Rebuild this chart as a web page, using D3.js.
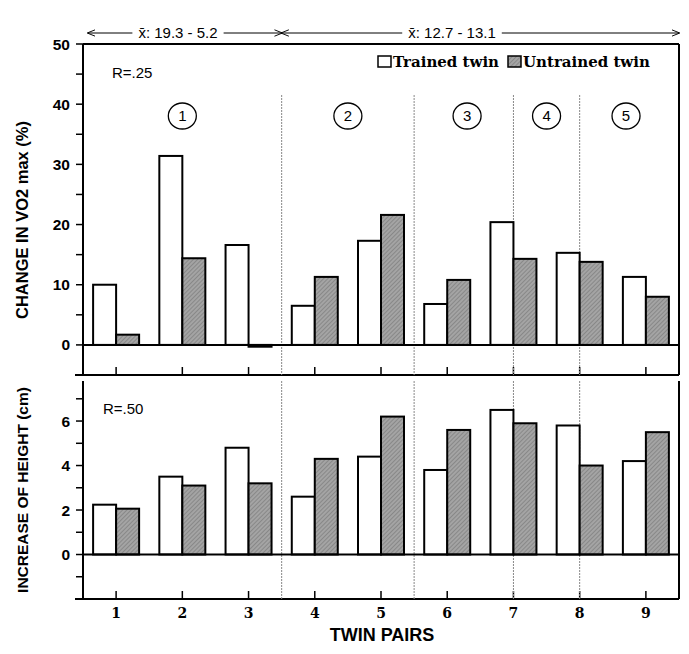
<!DOCTYPE html>
<html>
<head>
<meta charset="utf-8">
<script src="https://cdn.jsdelivr.net/npm/d3@7"></script>
<style>
  body { margin: 0; background: #fff; }
  svg { display: block; }
</style>
</head>
<body>
<svg id="chart" width="689" height="654"></svg>
<script>
// data
var pairs = ['1', '2', '3', '4', '5', '6', '7', '8', '9'];
var series = ['Trained twin', 'Untrained twin'];
var vo2Trained   = [10.0, 31.4, 16.6, 6.5, 17.3, 6.8, 20.4, 15.3, 11.3];
var vo2Untrained = [1.7, 14.4, -0.3, 11.3, 21.6, 10.8, 14.3, 13.8, 8.0];
var hgtTrained   = [2.24, 3.5, 4.8, 2.6, 4.4, 3.8, 6.5, 5.8, 4.2];
var hgtUntrained = [2.06, 3.1, 3.2, 4.3, 6.2, 5.6, 5.9, 4.0, 5.5];
var vo2Ticks = [0, 10, 20, 30, 40, 50];
var hgtTicks = [0, 2, 4, 6];
var dividers = [3.5, 5.5, 7, 8];          // in pair units
var groupLabels = [{t: '1', at: 2}, {t: '2', at: 4.5}, {t: '3', at: 6.3}, {t: '4', at: 7.5}, {t: '5', at: 8.7}];
var meanLabels = ['x\u0304: 19.3 - 5.2', 'x\u0304: 12.7 - 13.1'];

var svg = d3.select('#chart');
var left = 83, right = 679;
var sans = 'Liberation Sans, Arial, sans-serif';
var serif = 'DejaVu Serif, serif';

var x = d3.scaleBand().domain(pairs).range([left, right]).padding(0);
var xs = d3.scaleBand().domain(series).range([0, 46]);
var xPos = function (p) { return left + (p - 0.5) * x.bandwidth(); };

// hatch-ish pattern for the untrained bars
var defs = svg.append('defs');
var pat = defs.append('pattern').attr('id', 'hatch').attr('patternUnits', 'userSpaceOnUse')
	.attr('width', 3).attr('height', 3).attr('patternTransform', 'rotate(45)');
pat.append('rect').attr('width', 3).attr('height', 3).attr('fill', '#a4a4a4');
pat.append('line').attr('x1', 0).attr('y1', 0).attr('x2', 0).attr('y2', 3).attr('stroke', '#6c6c6c').attr('stroke-width', 1);

function panel(cfg) {
	var y = d3.scaleLinear().domain(cfg.domain).range([cfg.bottom, cfg.top]);
	var g = svg.append('g');

	// frame lines
	g.append('line').attr('x1', left).attr('x2', left).attr('y1', cfg.top).attr('y2', cfg.bottom)
		.attr('stroke', '#000').attr('stroke-width', 2);
	g.append('line').attr('x1', right).attr('x2', right).attr('y1', cfg.top).attr('y2', cfg.bottom)
		.attr('stroke', '#000').attr('stroke-width', 2);
	if (cfg.topLine) {
		g.append('line').attr('x1', left).attr('x2', right).attr('y1', cfg.top).attr('y2', cfg.top)
			.attr('stroke', '#000').attr('stroke-width', 2);
	}
	g.append('line').attr('x1', left - 8).attr('x2', right).attr('y1', cfg.bottom).attr('y2', cfg.bottom)
		.attr('stroke', '#000').attr('stroke-width', 2);

	// y ticks: labelled + minor
	var minor = d3.range(cfg.domain[0], cfg.domain[1] + 1e-9, cfg.minor);
	g.selectAll('.ytick').data(minor).enter().append('line')
		.attr('x1', left - 7).attr('x2', left).attr('y1', function (d) { return y(d); }).attr('y2', function (d) { return y(d); })
		.attr('stroke', '#000').attr('stroke-width', 1.5);
	g.selectAll('.ylab').data(cfg.ticks).enter().append('text')
		.attr('x', left - 13).attr('y', function (d) { return y(d); }).attr('dy', '0.36em')
		.attr('text-anchor', 'end').attr('font-family', sans)
		.attr('font-weight', 'bold').attr('font-size', 15.5).text(function (d) { return d; });

	// x ticks at pair centres, pointing up
	g.selectAll('.xtick').data(pairs).enter().append('line')
		.attr('x1', function (d) { return x(d) + x.bandwidth() / 2; }).attr('x2', function (d) { return x(d) + x.bandwidth() / 2; })
		.attr('y1', cfg.bottom).attr('y2', cfg.bottom - 8).attr('stroke', '#000').attr('stroke-width', 1.5);

	// dotted dividers
	g.selectAll('.div').data(dividers).enter().append('line')
		.attr('x1', xPos).attr('x2', xPos).attr('y1', cfg.divTop).attr('y2', cfg.bottom)
		.attr('stroke', '#888').attr('stroke-width', 1).attr('stroke-dasharray', '2,1');

	// bars
	var rows = pairs.map(function (p, i) { return {pair: p, vals: [cfg.trained[i], cfg.untrained[i]]}; });
	var grp = g.selectAll('.pair').data(rows).enter().append('g')
		.attr('transform', function (d) { return 'translate(' + (x(d.pair) + (x.bandwidth() - 46) / 2) + ',0)'; });
	grp.selectAll('rect').data(function (d) { return d.vals.map(function (v, j) { return {s: series[j], v: v}; }); })
		.enter().append('rect')
		.attr('x', function (d) { return xs(d.s); })
		.attr('width', xs.bandwidth())
		.attr('y', function (d) { return y(Math.max(0, d.v)); })
		.attr('height', function (d) { return Math.abs(y(d.v) - y(0)); })
		.attr('fill', function (d) { return d.s === series[0] ? '#fff' : 'url(#hatch)'; })
		.attr('stroke', '#000').attr('stroke-width', 2);

	// zero line
	g.append('line').attr('x1', left).attr('x2', right).attr('y1', y(0)).attr('y2', y(0))
		.attr('stroke', '#000').attr('stroke-width', 2);

	// R value
	g.append('text').attr('x', cfg.rx).attr('y', cfg.ry).attr('font-family', sans)
		.attr('font-size', 15).text(cfg.r);

	// y title
	g.append('text').attr('transform', 'translate(28,' + cfg.titleY + ') rotate(-90)')
		.attr('text-anchor', 'middle').attr('font-family', sans)
		.attr('font-weight', 'bold').attr('font-size', cfg.titleSize).text(cfg.title);
	return y;
}

panel({domain: [-5, 50], ticks: vo2Ticks, minor: 5, top: 44, bottom: 375, topLine: true, divTop: 95,
	trained: vo2Trained, untrained: vo2Untrained, r: 'R=.25', rx: 112, ry: 78,
	title: 'CHANGE IN VO2 max (%)', titleY: 220, titleSize: 16.5});
panel({domain: [-2, 7.8], ticks: hgtTicks, minor: 1, top: 381, bottom: 599, topLine: false, divTop: 381,
	trained: hgtTrained, untrained: hgtUntrained, r: 'R=.50', rx: 103, ry: 414,
	title: 'INCREASE OF HEIGHT (cm)', titleY: 490, titleSize: 15.5});

// x tick labels + title
svg.selectAll('.xlab').data(pairs).enter().append('text')
	.attr('x', function (d) { return x(d) + x.bandwidth() / 2; }).attr('y', 618)
	.attr('text-anchor', 'middle').attr('font-family', serif)
	.attr('font-weight', 'bold').attr('font-size', 14).text(function (d) { return d; });
svg.append('text').attr('x', 382).attr('y', 641).attr('text-anchor', 'middle')
	.attr('font-family', sans).attr('font-weight', 'bold')
	.attr('font-size', 18).text('TWIN PAIRS');

// circled group numbers
var cg = svg.selectAll('.grp').data(groupLabels).enter().append('g')
	.attr('transform', function (d) { return 'translate(' + xPos(d.at) + ',116)'; });
cg.append('ellipse').attr('rx', 14).attr('ry', 13).attr('fill', 'none').attr('stroke', '#000').attr('stroke-width', 1.3);
cg.append('text').attr('text-anchor', 'middle').attr('dy', '0.36em')
	.attr('font-family', sans).attr('font-size', 15).text(function (d) { return d.t; });

// legend
var lg = svg.append('g').attr('transform', 'translate(378,67)');
var lx = 0;
series.forEach(function (s, i) {
	lg.append('rect').attr('x', lx).attr('y', -11).attr('width', 13).attr('height', 11)
		.attr('fill', i === 0 ? '#fff' : 'url(#hatch)').attr('stroke', '#000').attr('stroke-width', 1.5);
	var t = lg.append('text').attr('x', lx + 15).attr('y', 0).attr('font-family', serif).attr('font-weight', 'bold')
		.attr('font-size', 15).text(s);
	lx += 15 + t.node().getComputedTextLength() + 9;
});

// mean ranges with arrows above the top panel
var ay = 33;
defs.append('marker').attr('id', 'arr').attr('viewBox', '0 0 10 10').attr('refX', 9).attr('refY', 5)
	.attr('markerWidth', 8).attr('markerHeight', 8).attr('orient', 'auto-start-reverse')
	.append('path').attr('d', 'M0,1 L10,5 L0,9').attr('fill', 'none').attr('stroke', '#000').attr('stroke-width', 1.2);
var segs = [
	{a: left + 5, b: xPos(3.5), label: meanLabels[0], lx: 178},
	{a: xPos(3.5), b: right, label: meanLabels[1], lx: 452}
];
segs.forEach(function (s) {
	var t = svg.append('text').attr('x', s.lx).attr('y', ay + 5).attr('text-anchor', 'middle')
		.attr('font-family', sans).attr('font-size', 15).text(s.label);
	var bb = t.node().getBBox();
	svg.append('line').attr('x1', bb.x - 6).attr('x2', s.a).attr('y1', ay).attr('y2', ay)
		.attr('stroke', '#000').attr('stroke-width', 1).attr('marker-end', 'url(#arr)');
	svg.append('line').attr('x1', bb.x + bb.width + 6).attr('x2', s.b).attr('y1', ay).attr('y2', ay)
		.attr('stroke', '#000').attr('stroke-width', 1).attr('marker-end', 'url(#arr)');
});
</script>
</body>
</html>
